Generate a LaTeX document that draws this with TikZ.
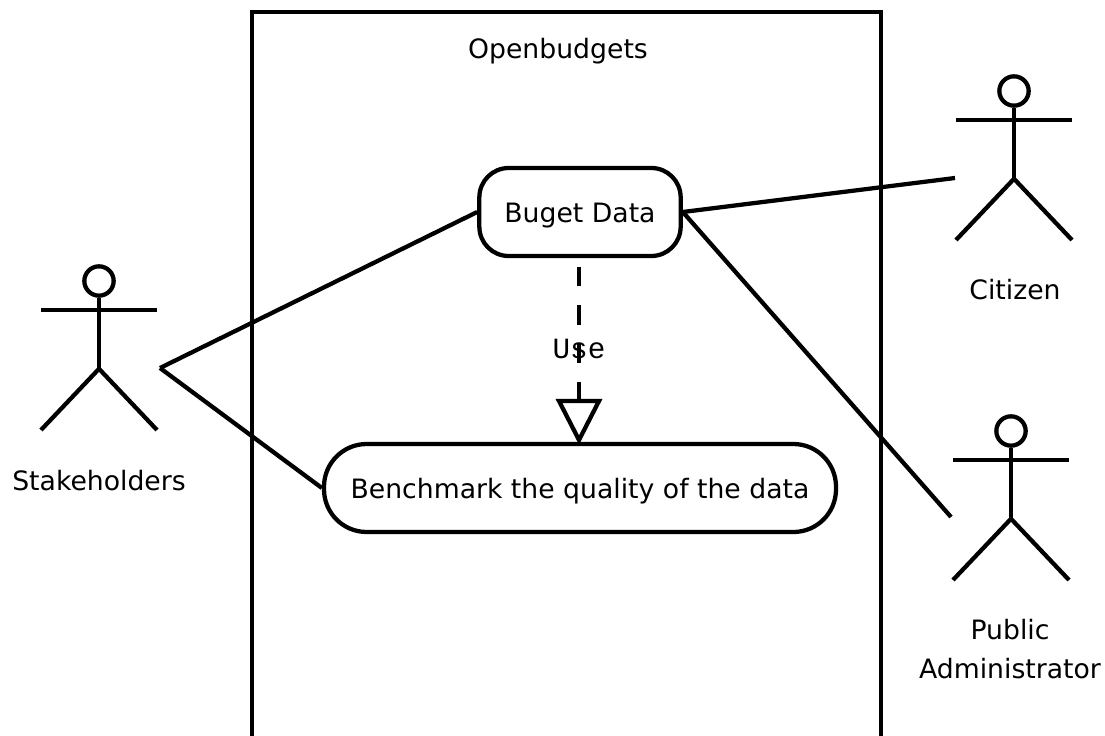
\documentclass[tikz,border=0pt]{standalone}
\usepackage{fontspec}
\setmainfont{DejaVu Sans}
\setmonofont{Liberation Mono}
\usepackage{tikz}
\usetikzlibrary{arrows.meta}

\begin{document}
\begin{tikzpicture}[x=0.75pt,y=-0.75pt,line width=3.2pt]
      \tikzset{usecase/.style={draw,minimum height=66pt,inner sep=0pt,text height=20pt,text depth=4pt,font=\fontsize{20}{29}\selectfont},
        label/.style={font=\fontsize{20}{29}\selectfont,align=center,inner sep=0pt},
        head/.style={draw,circle,minimum size=22pt,inner sep=0pt}}
      \useasboundingbox (0,0) rectangle (1105,735);

      \draw (252,745) -- (252,12) -- (881,12) -- (881,745);
      \node[label] (system) at (558,51) {Openbudgets};

      \node[usecase,rounded corners=22pt,minimum width=151pt] (data) at (580,212) {Buget Data};
      \node[usecase,rounded corners=32pt,minimum width=384pt] (bench) at (580,488) {Benchmark the quality of the data};

      \foreach \actor/\x/\y in {stake/99/281,citizen/1014/91,admin/1011/431} {
        \node[head] (\actor) at (\x,\y) {};
        \draw (\actor.south) -- ++(0,71) coordinate (\actor hip);
        \draw (\x-58,\y+29) -- (\x+58,\y+29);
        \draw (\x-58,\y+149) -- (\actor hip) -- (\x+58,\y+149);
      }

      \node[label] (stakelabel) at (99,481) {Stakeholders};
      \node[label] (citizenlabel) at (1015,290) {Citizen};
      \node[label] (adminlabel) at (1010,649) {Public\\Administrator};

      \coordinate (stakeend) at (160,368);
      \coordinate (citizenend) at (955,178);
      \coordinate (adminend) at (951,517);
      \draw (stakeend) -- (data.west);
      \draw (stakeend) -- (bench.west);
      \draw (data.east) -- (citizenend);
      \draw (data.east) -- (adminend);

      \coordinate (usestart) at (579,267);
      \coordinate (useend) at (579,401);
      \draw[dash pattern=on 14.4pt off 14.4pt] (usestart) -- (useend);
      \node[font=\ttfamily\fontsize{22}{26}\selectfont,inner sep=0pt] (use) at (579,349) {Use};
      \coordinate (tipleft) at (559,401);
      \coordinate (tipright) at (599,401);
      \coordinate (tip) at (579,440);
      \draw[line join=miter] (tipleft) -- (tipright) -- (tip) -- cycle;
\end{tikzpicture}
\end{document}
